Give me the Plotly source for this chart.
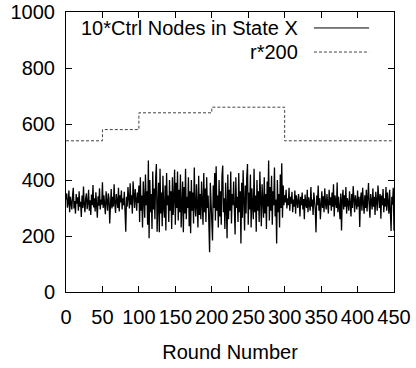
import plotly.graph_objects as go

# Series 1: 10 * control nodes in state X, one value per round (0..450)
ctrl_x10 = [
    330, 352, 301, 318, 362, 285, 340, 310, 295, 345,
    372, 298, 325, 280, 350, 315, 338, 290, 360, 305,
    322, 268, 345, 300, 377, 312, 285, 335, 352, 296,
    318, 365, 290, 328, 275, 348, 310, 382, 302, 335,
    288, 356, 320, 265, 342, 308, 370, 295, 330, 312,
    392, 300, 345, 318, 278, 360, 325, 290, 352, 335,
    245, 320, 368, 298, 340, 305, 385, 315, 282, 350,
    330, 300, 372, 288, 345, 320, 362, 295, 335, 310,
    358, 290, 215, 340, 305, 375, 325, 298, 388, 312,
    345, 280, 395, 322, 300, 368, 330, 290, 355, 318,
    380, 250, 410, 290, 345, 230, 395, 300, 265, 420,
    310, 360, 240, 470, 192, 400, 285, 350, 225, 430,
    295, 370, 260, 405, 457, 215, 330, 390, 213, 440,
    280, 355, 235, 415, 300, 265, 380, 220, 425, 310,
    345, 250, 400, 290, 360, 225, 410, 275, 335, 437,
    240, 390, 300, 430, 255, 365, 285, 420, 230, 350,
    395, 213, 375, 280, 440, 260, 340, 300, 410, 235,
    360, 210, 400, 290, 355, 245, 445, 305, 270, 385,
    320, 230, 415, 275, 350, 260, 395, 300, 240, 425,
    285, 370, 250, 410, 300, 345, 220, 142, 390, 310,
    265, 184, 380, 300, 425, 255, 449, 290, 345, 230,
    400, 270, 360, 240, 415, 452, 285, 335, 225, 390,
    300, 192, 420, 260, 365, 290, 430, 245, 350, 310,
    395, 275, 205, 410, 300, 340, 250, 425, 285, 360,
    173, 390, 265, 435, 300, 220, 380, 280, 410, 457,
    240, 355, 295, 420, 230, 370, 310, 260, 440, 285,
    345, 215, 400, 290, 360, 250, 430, 300, 235, 385,
    320, 265, 410, 280, 350, 225, 395, 305, 470, 255,
    375, 290, 415, 240, 360, 310, 445, 270, 330, 173,
    400, 285, 350, 230, 420, 300, 460, 265, 380, 310,
    345, 320, 365, 298, 335, 310, 372, 290, 340, 315,
    358, 285, 330, 305, 362, 280, 345, 318, 300, 350,
    325, 270, 340, 310, 355, 295, 332, 260, 348, 315,
    300, 365, 285, 338, 312, 290, 375, 305, 330, 275,
    355, 320, 295, 213, 345, 310, 380, 290, 335, 260,
    325, 360, 300, 342, 285, 370, 315, 295, 350, 325,
    280, 365, 310, 338, 290, 355, 305, 385, 270, 345,
    320, 300, 391, 285, 340, 310, 260, 352, 220, 330,
    365, 295, 345, 305, 375, 280, 335, 318, 290, 360,
    325, 270, 350, 300, 378, 310, 285, 345, 320, 295,
    362, 305, 340, 232, 330, 355, 290, 372, 315, 280,
    345, 300, 365, 288, 335, 389, 310, 265, 350, 320,
    295, 370, 305, 340, 275, 358, 318, 290, 380, 325,
    300, 350, 262, 345, 310, 368, 285, 335, 305, 375,
    290, 355, 320, 280, 365, 300, 218, 340, 312, 372,
    219,
]
rounds = list(range(len(ctrl_x10)))

# Series 2: r*200, piecewise constant by round interval
r_round_starts = [0, 50, 100, 200, 300, 450]
r_x200 = [540, 580, 640, 660, 540, 540]

x_ticks = [0, 50, 100, 150, 200, 250, 300, 350, 400, 450]
y_ticks = [0, 200, 400, 600, 800, 1000]

FONT = "Liberation Sans, Arial, sans-serif"

fig = go.Figure()
fig.add_trace(go.Scatter(
    x=rounds, y=ctrl_x10, mode="lines",
    line=dict(color="black", width=1.3),
    name="10*Ctrl Nodes in State X", showlegend=False,
))
fig.add_trace(go.Scatter(
    x=r_round_starts, y=r_x200, mode="lines",
    line=dict(color="#444444", width=1, dash="3px,2px", shape="hv"),
    name="r*200", showlegend=False,
))

axis_common = dict(
    showline=True, linecolor="black", linewidth=1, mirror="ticks",
    ticks="inside", ticklen=6, tickcolor="black", tickwidth=1,
    showgrid=False, zeroline=False, automargin=False,
    ticklabeloverflow="allow",
    tickfont=dict(family=FONT, size=20, color="black"),
)

fig.update_xaxes(range=[0, 450], tickvals=x_ticks,
                 title=dict(text="Round Number", font=dict(family=FONT, size=20, color="black"), standoff=17),
                 ticklabelstandoff=7, **axis_common)
fig.update_yaxes(range=[0, 1000], tickvals=y_ticks, ticklabelstandoff=6, **axis_common)

# gnuplot-style legend: right-aligned text followed by a line sample
legend_rows = [("10*Ctrl Nodes in State X", 0.943, "solid", "black"),
               ("r*200", 0.857, "3px,2px", "#444444")]
for text, yy, dash, col in legend_rows:
    fig.add_annotation(x=0.713, y=yy, xref="paper", yref="paper", text=text,
                       showarrow=False, xanchor="right", yanchor="middle",
                       font=dict(family=FONT, size=20, color="black"))
    fig.add_shape(type="line", xref="paper", yref="paper",
                  x0=0.756, x1=0.924, y0=yy, y1=yy,
                  line=dict(color=col, width=1, dash=dash))

fig.update_layout(
    width=416, height=368,
    margin=dict(l=66, r=22, t=12, b=76, autoexpand=False),
    paper_bgcolor="white", plot_bgcolor="white",
    font=dict(family=FONT, size=20, color="black"),
)

fig.write_html("out.html")
